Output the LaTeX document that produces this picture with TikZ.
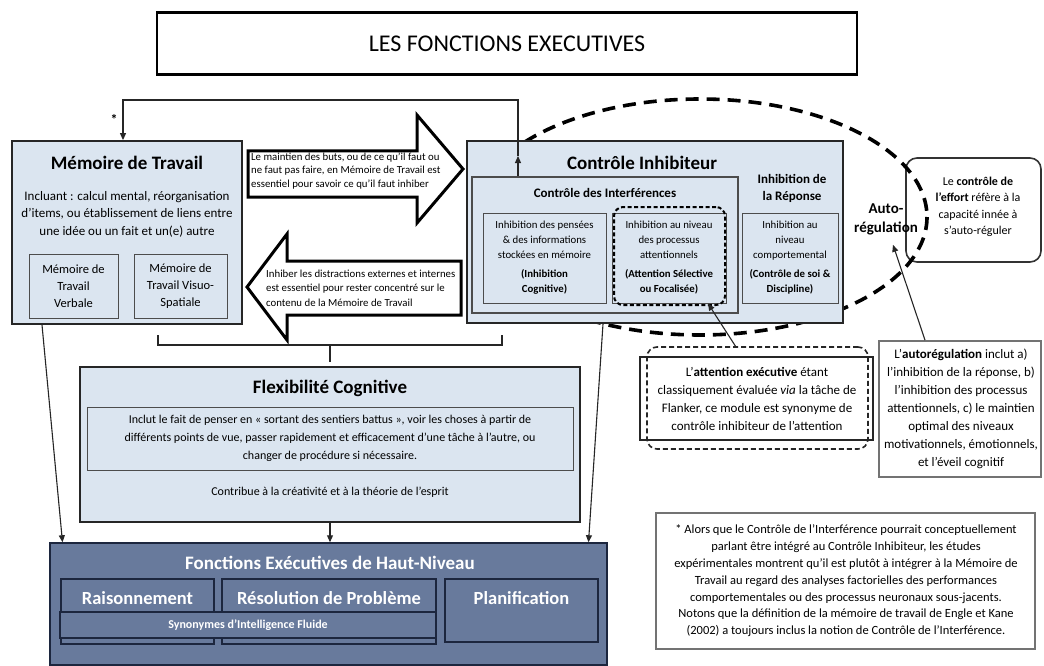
\documentclass[tikz,border=0pt]{standalone}
\usepackage{fontspec}
\setmainfont{Carlito}
\usetikzlibrary{arrows.meta}
\definecolor{lb}{RGB}{219,229,240}
\definecolor{fe}{RGB}{104,122,156}
\definecolor{fed}{RGB}{28,38,62}
\newcommand{\fsz}[2]{\fontsize{#1}{#2}\selectfont}
\tikzset{
 bigbox/.style={draw=black!85, line width=1.8pt, fill=lb, inner sep=0},
 midbox/.style={draw=black!70, line width=1.1pt, fill=lb, inner sep=0},
 smallbox/.style={draw=black!70, line width=1pt, fill=lb, align=center, inner sep=0},
 txt/.style={align=center, inner sep=0},
 conn/.style={line width=1.1pt, draw=black!85},
 arrowend/.style={-{Triangle[length=7pt,width=6pt]}},
 blockarrow/.style={draw=black, line width=3pt, fill=white, line join=miter},
 febox/.style={draw=fed, line width=1.5pt, fill=fe, inner sep=0},
 fetxt/.style={text=white, inner sep=0},
 notebox/.style={draw=black!55, line width=1.8pt, fill=white, inner sep=0},
}
\begin{document}
\begin{tikzpicture}[x=1pt,y=-1pt]
\fill[white] (0,0) rectangle (1044,666);
\useasboundingbox (0,0) rectangle (1044,666);

% title
\node[draw=black, line width=2.6pt, minimum width=700, minimum height=62, inner sep=0, font=\fsz{24}{28}] (title) at (507,43.5) {LES FONCTIONS EXECUTIVES};

% effort callout
\node[draw=black!80, line width=1.6pt, rounded corners=11pt, fill=white, minimum width=135, minimum height=104] (effort) at (973.5,210) {};
\node[txt, font=\fsz{12}{16.5}] (effortt) at (978,207) {Le \textbf{contrôle de}\\\textbf{l'effort} réfère à la\\capacité innée à\\s'auto-réguler};

% auto-regulation ellipse
\draw[line width=3.6pt, dash pattern=on 13pt off 8pt] (700,217) ellipse [x radius=227, y radius=118];

% Memoire de travail
\node[bigbox, minimum width=230, minimum height=183] (mt) at (127,232.5) {};
\node[txt, font=\fsz{19}{22}\bfseries] (mtt) at (127,163) {Mémoire de Travail};
\node[txt, font=\fsz{13}{17.5}] (mtd) at (127,214) {Incluant : calcul mental, réorganisation\\d'items, ou établissement de liens entre\\une idée ou un fait et un(e) autre};
\node[smallbox, minimum width=89, minimum height=64, font=\fsz{12.5}{17}] (mtv) at (73.5,286) {Mémoire de\\Travail\\Verbale};
\node[smallbox, minimum width=93, minimum height=64, font=\fsz{12.5}{17}] (mtvs) at (180.5,286) {Mémoire de\\Travail Visuo-\\Spatiale};

% Controle inhibiteur
\node[bigbox, minimum width=376, minimum height=182] (ci) at (655,232) {};
\node[txt, font=\fsz{19}{22}\bfseries] (cit) at (642,163) {Contrôle Inhibiteur};
\node[midbox, minimum width=266, minimum height=136] (cdi) at (605,245) {};
\node[txt, font=\fsz{13}{16}\bfseries] (cdit) at (605,193) {Contrôle des Interférences};
\node[smallbox, minimum width=123, minimum height=90, font=\fsz{10.8}{15}] (ic) at (544.5,258) {Inhibition des pensées\\\& des informations\\stockées en mémoire\\[4pt]\textbf{(Inhibition}\\\textbf{Cognitive)}};
\node[smallbox, minimum width=114, minimum height=90, font=\fsz{10.8}{15}] (ia) at (669,258) {Inhibition au niveau\\des processus\\attentionnels\\[4pt]\textbf{(Attention Sélective}\\\textbf{ou Focalisée)}};
\node[draw=black, line width=2pt, dash pattern=on 4pt off 2.5pt, rounded corners=9pt, minimum width=111, minimum height=98, inner sep=0] (iad) at (669.5,256) {};
\node[txt, font=\fsz{13}{17}\bfseries] (irt) at (792,188) {Inhibition de\\la Réponse};
\node[smallbox, minimum width=96, minimum height=90, font=\fsz{10.8}{15}] (ir) at (790,258) {Inhibition au\\niveau\\comportemental\\[4pt]\textbf{(Contrôle de soi \&}\\\textbf{Discipline)}};

\node[txt, font=\fsz{15}{19}\bfseries] (autol) at (886,219) {Auto-\\régulation};

% block arrows
\draw[blockarrow] (248,151) -- (417,151) -- (417,115) -- (463,169) -- (417,223) -- (417,197) -- (248,197) -- cycle;
\node[anchor=west, align=left, inner sep=0, font=\fsz{10.8}{13.2}] (rat) at (251,171) {Le maintien des buts, ou de ce qu'il faut ou\\ne faut pas faire, en Mémoire de Travail est\\essentiel pour savoir ce qu'il faut inhiber};
\draw[blockarrow] (461,261) -- (287,261) -- (287,234) -- (247,287) -- (287,340) -- (287,315) -- (461,315) -- cycle;
\node[anchor=west, align=left, inner sep=0, font=\fsz{10.8}{14.5}] (lat) at (266,288) {Inhiber les distractions externes et internes\\est essentiel pour rester concentré sur le\\contenu de la Mémoire de Travail};

% attention executive
\node[draw=black!85, line width=1.6pt, fill=white, minimum width=233, minimum height=83, inner sep=0] (att) at (756.5,398.5) {};
\node[draw=black!85, line width=1.6pt, dash pattern=on 5pt off 3pt, rounded corners=10pt, minimum width=221, minimum height=102, inner sep=0] (attd) at (757.5,398) {};
\node[txt, font=\fsz{13}{17.7}] (attt) at (757,399) {L'\textbf{attention exécutive} étant\\classiquement évaluée \textit{via} la tâche de\\Flanker, ce module est synonyme de\\contrôle inhibiteur de l'attention};
\draw[conn, arrowend] ([xshift=-22pt]attd.north) -- ([xshift=39pt]ia.south);

% autoregulation note
\node[notebox, minimum width=162, minimum height=136] (ar) at (960,409) {};
\node[txt, font=\fsz{13}{17.9}] (art) at (961,409) {L'\textbf{autorégulation} inclut a)\\l'inhibition de la réponse, b)\\l'inhibition des processus\\attentionnels, c) le maintien\\optimal des niveaux\\motivationnels, émotionnels,\\et l'éveil cognitif};
\draw[conn, arrowend] ([xshift=-35pt]ar.north) -- ([shift={(7,10)}]autol.south);

% bracket
\coordinate (brL) at (158,345);
\coordinate (brR) at (502,345);
\coordinate (brC) at (330,345);
\draw[conn] (brL) ++(0,-10) -- (brL) -- (brR) -- ++(0,-10);
\draw[conn] (brC) -- ++(0,17);

% flexibilite cognitive
\node[bigbox, minimum width=500, minimum height=155] (fc) at (330,444.5) {};
\node[txt, font=\fsz{19}{22}\bfseries] (fct) at (330,388) {Flexibilité Cognitive};
\node[smallbox, minimum width=486, minimum height=63, font=\fsz{12}{18.3}] (fcd) at (330,438.5) {Inclut le fait de penser en « sortant des sentiers battus », voir les choses à partir de\\différents points de vue, passer rapidement et efficacement d'une tâche à l'autre, ou\\changer de procédure si nécessaire.};
\node[txt, font=\fsz{12}{16}] (fcc) at (330,492) {Contribue à la créativité et à la théorie de l'esprit};

% fonctions executives de haut niveau
\node[febox, minimum width=557, minimum height=122] (fe) at (328.5,604) {};
\node[fetxt, font=\fsz{19}{22}\bfseries] (fet) at (330,563) {Fonctions Exécutives de Haut-Niveau};
\node[febox, minimum width=153, minimum height=65] (rai) at (137.5,611.5) {};
\node[febox, minimum width=214, minimum height=65] (res) at (329,611.5) {};
\node[febox, minimum width=153, minimum height=63] (pla) at (521.5,610.5) {};
\node[febox, minimum width=376, minimum height=26] (syn) at (248,625) {};
\node[fetxt, font=\fsz{18.5}{20}\bfseries] (rait) at (137.5,598) {Raisonnement};
\node[fetxt, font=\fsz{18.5}{20}\bfseries] (rest) at (329,598) {Résolution de Problème};
\node[fetxt, font=\fsz{18.5}{20}\bfseries] (plat) at (521.5,598) {Planification};
\node[fetxt, font=\fsz{12}{14}\bfseries] (synt) at (248,625) {Synonymes d'Intelligence Fluide};

% connectors to FEHN
\draw[conn, arrowend] ([xshift=-85pt]mt.south) -- ([xshift=-266pt]fe.north);
\draw[conn, arrowend] ([xshift=-52pt]ci.south) -- ([xshift=260pt]fe.north);
\draw[conn, arrowend] (fc.south) -- (fe.north -| fc.south);

% feedback loop
\coordinate (fbL) at (123,100);
\coordinate (fbM) at (518,156);
\draw[conn, arrowend] ([xshift=-87pt]cdi.north) -- (fbM);
\draw[conn, arrowend] (fbM) |- (fbL) -- (fbL |- mt.north);
\node[txt, font=\fsz{14}{14}\bfseries] (star) at (114,119) {*};

% footnote
\node[notebox, minimum width=379, minimum height=136] (fn) at (845.5,581) {};
\node[txt, font=\fsz{12.5}{16.8}] (fnt) at (846,581) {* Alors que le Contrôle de l'Interférence pourrait conceptuellement\\parlant être intégré au Contrôle Inhibiteur, les études\\expérimentales montrent qu'il est plutôt à intégrer à la Mémoire de\\Travail au regard des analyses factorielles des performances\\comportementales ou des processus neuronaux sous-jacents.\\Notons que la définition de la mémoire de travail de Engle et Kane\\(2002) a toujours inclus la notion de Contrôle de l'Interférence.};
\end{tikzpicture}
\end{document}
